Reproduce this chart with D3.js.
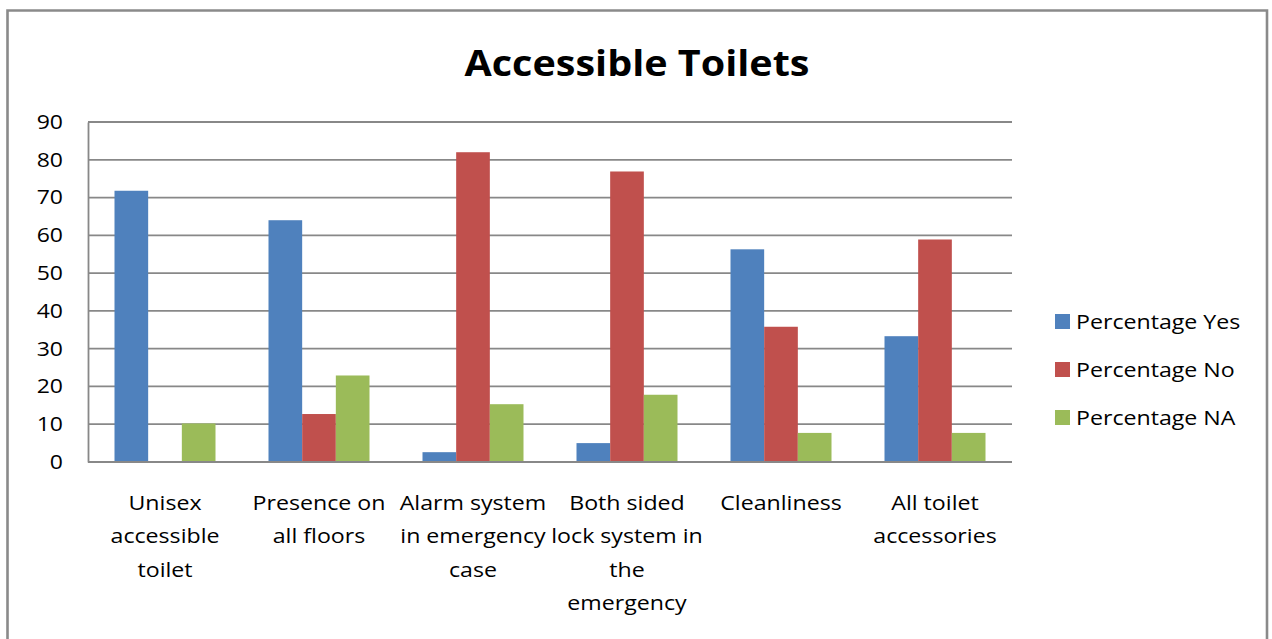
<!DOCTYPE html>
<html>
<head>
<meta charset="utf-8">
<script src="https://cdn.jsdelivr.net/npm/d3@7"></script>
<style>
  html, body { margin: 0; padding: 0; background: #fff; }
  svg { display: block; }
  text { font-family: "Open Sans", "Noto Sans", sans-serif; fill: #000; }
</style>
</head>
<body>
<svg id="chart" width="1272" height="639"></svg>
<script>
// Survey results: accessible toilet features
const categories = [
  ["Unisex", "accessible", "toilet"],
  ["Presence on", "all floors"],
  ["Alarm system", "in emergency", "case"],
  ["Both sided", "lock system in", "the", "emergency"],
  ["Cleanliness"],
  ["All toilet", "accessories"]
];
const seriesNames = ["Percentage Yes", "Percentage No", "Percentage NA"];
const percentYes = [71.8, 64.0, 2.6, 5.0, 56.3, 33.3];
const percentNo  = [0, 12.7, 82.0, 76.9, 35.8, 58.9];
const percentNA  = [10.2, 22.9, 15.3, 17.8, 7.7, 7.7];
const yTicks = [0, 10, 20, 30, 40, 50, 60, 70, 80, 90];
const seriesColors = ["#4F81BD", "#C0504D", "#9BBB59"];

const svg = d3.select("#chart");
const plot = { left: 88, right: 1012, top: 122, bottom: 462 };
// Text is widened slightly so the narrow sans face spans the same room
const textStretch = 1.13;

// Outer chart frame (open at the bottom edge of the page)
svg.append("path")
  .attr("d", "M7.5,645 V10.5 H1267 V645")
  .attr("fill", "none")
  .attr("stroke", "#8a8a8a")
  .attr("stroke-width", 2.6);

// Title
svg.append("text")
  .attr("transform", `translate(637,76) scale(${textStretch},1)`)
  .attr("text-anchor", "middle")
  .attr("font-size", 35)
  .attr("font-weight", 700)
  .text("Accessible Toilets");

const keys = categories.map((c, i) => i);
const x0 = d3.scaleBand().domain(keys)
  .range([plot.left, plot.right])
  .paddingInner(53 / 154).paddingOuter(53 / 308);
const x1 = d3.scaleBand().domain(d3.range(seriesNames.length))
  .range([0, x0.bandwidth()]).padding(0);
const y = d3.scaleLinear().domain([0, 90]).range([plot.bottom, plot.top]);

// Horizontal gridlines
svg.append("g")
  .selectAll("line").data(yTicks.filter(t => t > 0)).join("line")
  .attr("x1", plot.left).attr("x2", plot.right)
  .attr("y1", d => y(d)).attr("y2", d => y(d))
  .attr("stroke", "#888").attr("stroke-width", 1.8);

// Y axis with labels
const yAxis = svg.append("g")
  .attr("transform", `translate(${plot.left},0)`)
  .call(d3.axisLeft(y).tickValues(yTicks).tickSize(0).tickPadding(0));
yAxis.select(".domain").attr("stroke", "#888").attr("stroke-width", 1.8);
yAxis.selectAll(".tick text")
  .attr("x", null)
  .attr("transform", `translate(-25,0) scale(1.15,1)`)
  .attr("font-size", 20)
  .style("font-family", '"Open Sans", "Noto Sans", sans-serif')
  .attr("fill", "#000");

// Bars
const seriesValues = [percentYes, percentNo, percentNA];
const groups = svg.append("g").selectAll("g").data(keys).join("g")
  .attr("transform", d => `translate(${x0(d)},0)`);
groups.selectAll("rect")
  .data(i => seriesValues.map((vals, s) => ({ s, v: vals[i] })))
  .join("rect")
  .attr("x", d => x1(d.s))
  .attr("width", x1.bandwidth())
  .attr("y", d => y(d.v))
  .attr("height", d => y(0) - y(d.v))
  .attr("fill", d => seriesColors[d.s]);

// Baseline drawn over the bars
svg.append("line")
  .attr("x1", plot.left).attr("x2", plot.right)
  .attr("y1", y(0)).attr("y2", y(0))
  .attr("stroke", "#888").attr("stroke-width", 1.8);

// Multi-line category labels
const xLabels = svg.append("g").selectAll("text").data(keys).join("text")
  .attr("transform", d => `translate(${x0(d) + x0.bandwidth() / 2},510) scale(${textStretch},1)`)
  .attr("text-anchor", "middle")
  .attr("font-size", 20.5);
xLabels.selectAll("tspan")
  .data(i => categories[i])
  .join("tspan")
  .attr("x", 0)
  .attr("y", (d, j) => j * 33.3)
  .text(d => d);

// Legend
const legend = svg.append("g").selectAll("g").data(seriesNames).join("g")
  .attr("transform", (d, i) => `translate(1055,${314 + i * 48})`);
legend.append("rect")
  .attr("width", 15).attr("height", 15)
  .attr("fill", (d, i) => seriesColors[i]);
legend.append("text")
  .attr("transform", `translate(21,14.5) scale(${textStretch},1)`)
  .attr("font-size", 20.5)
  .text(d => d);
</script>
</body>
</html>
